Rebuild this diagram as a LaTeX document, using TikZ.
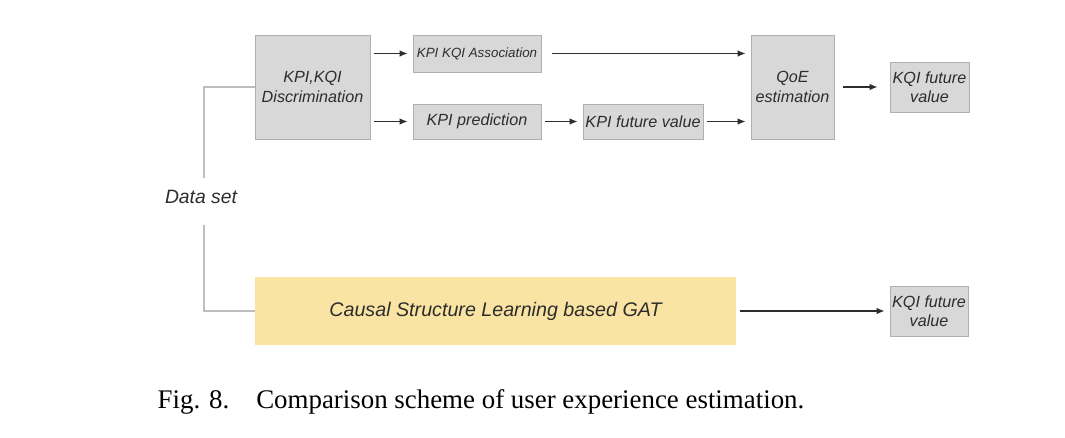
\documentclass[tikz,border=0pt]{standalone}
\usepackage{fontspec}
\setmainfont{Liberation Serif}
\newfontfamily\arialfont{Liberation Sans}
\usetikzlibrary{arrows.meta,positioning}
\definecolor{boxfill}{RGB}{216,216,216}
\definecolor{boxline}{RGB}{175,175,175}
\definecolor{gatfill}{RGB}{249,228,163}
\definecolor{feedline}{RGB}{190,190,190}
\definecolor{txt}{RGB}{45,45,45}

\begin{document}
\begin{tikzpicture}[
  box/.style={draw=boxline,fill=boxfill,align=center,inner sep=0pt,text=txt,
    font=\arialfont\itshape\fontsize{9.2}{11}\selectfont},
  arr/.style={-{Latex[length=1.6mm,width=1.3mm]},line width=0.75pt,txt,
    shorten <=0.08cm,shorten >=0.1cm},
  feed/.style={feedline,line width=0.6pt}]
\useasboundingbox[fill=white] (0,0) rectangle (21.3,8.74);
	% upper branch
	\node[box,minimum width=2.3cm,minimum height=2.08cm] (disc) at (6.25,7.00){KPI,KQI\\Discrimination};
	\node[box,minimum width=2.56cm,minimum height=0.74cm,
	font=\arialfont\itshape\fontsize{7.6}{9}\selectfont] (assoc) at (9.54,7.67){KPI KQI Association};
	\node[box,minimum width=2.56cm,minimum height=0.70cm] (pred) at (9.54,6.31){KPI prediction};
	\node[box,minimum width=2.40cm,minimum height=0.70cm] (fut) at (12.86,6.31){KPI future value};
	\node[box,minimum width=1.66cm,minimum height=2.08cm] (qoe) at (15.85,7.00){QoE\\estimation};
	\node[box,minimum width=1.58cm,minimum height=1.0cm] (kqia) at (18.59,7.00){KQI future\\value};
	% data set and lower branch
	\node[text=txt,font=\arialfont\itshape\fontsize{11}{13}\selectfont] (ds) at (4.02,4.80){Data set};
	\node[box,draw=none,fill=gatfill,minimum width=9.62cm,minimum height=1.36cm,
	font=\arialfont\itshape\fontsize{11.2}{13}\selectfont] (gat) at (9.91,2.52){Causal Structure Learning based GAT};
	\node[box,minimum width=1.56cm,minimum height=1.0cm] (kqib) at (18.58,2.52){KQI future\\value};
	% caption
	\node[font=\fontsize{15.3}{18}\selectfont] (cap) at (9.62,0.70){Fig. 8.\hspace{1.0em}Comparison scheme of user experience estimation.};
	% connectors
	\draw[feed](disc.west) -| ([xshift=0.06cm,yshift=0.12cm]ds.north);
	\draw[feed]([xshift=0.06cm,yshift=-0.3cm]ds.south) |- (gat.west);
	\draw[arr](disc.east |- assoc) -- (assoc);
	\draw[arr](disc.east |- pred) -- (pred);
	\draw[arr,shorten <=0.22cm](assoc) -- (qoe.west |- assoc);
	\draw[arr](pred) -- (fut);
	\draw[arr](fut) -- (qoe.west |- fut);
	\draw[arr,shorten <=0.18cm,shorten >=0.24cm](qoe) -- (kqia);
	\draw[arr](gat) -- (kqib);
\end{tikzpicture}
\end{document}
